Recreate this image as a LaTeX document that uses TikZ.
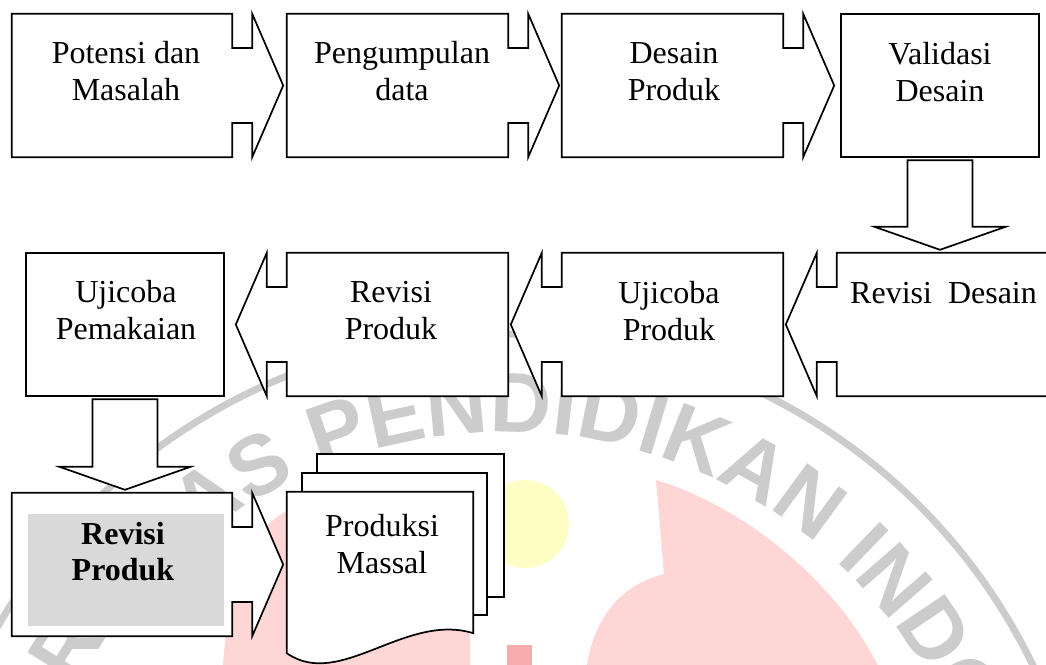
\documentclass[tikz,border=0pt]{standalone}
\usepackage{fontspec}
\setmainfont{Liberation Serif}
\newfontfamily\wmfont{Liberation Sans}
\usetikzlibrary{calc,decorations.text}
\definecolor{wmgray}{RGB}{204,204,204}
\definecolor{wmpink}{RGB}{255,214,214}
\definecolor{wmred}{RGB}{245,172,172}
\definecolor{wmyellow}{RGB}{255,253,196}
\definecolor{boxgray}{RGB}{217,217,217}
% right-pointing arrow callout around a named rectangle node
\newcommand\rcall[1]{\draw[shp] (#1.north west) -- (#1.north east) -- ($(#1.east)+(0,37.5)$) -- ($(#1.east)+(20,37.5)$) -- ($(#1.north east)+(20,0)$) -- ($(#1.east)+(51,0)$) -- ($(#1.south east)+(20,0)$) -- ($(#1.east)+(20,-37.5)$) -- ($(#1.east)+(0,-37.5)$) -- (#1.south east) -- (#1.south west) -- cycle;}
% left-pointing arrow callout
\newcommand\lcall[1]{\draw[shp] (#1.north east) -- (#1.north west) -- ($(#1.west)+(0,37.5)$) -- ($(#1.west)+(-20,37.5)$) -- ($(#1.north west)+(-20,0)$) -- ($(#1.west)+(-51,0)$) -- ($(#1.south west)+(-20,0)$) -- ($(#1.west)+(-20,-37.5)$) -- ($(#1.west)+(0,-37.5)$) -- (#1.south west) -- (#1.south east) -- cycle;}
% downward block arrow from node #1 to node #2
\newcommand\dnarrow[2]{\draw[shp] ($(#1.south)+(-32.5,-3)$) -- ($(#1.south)+(32.5,-3)$) -- ($(#1.south |- #2.north)+(32.5,26)$) -- ($(#1.south |- #2.north)+(65.5,26)$) -- ($(#1.south |- #2.north)+(0,3)$) -- ($(#1.south |- #2.north)+(-65.5,26)$) -- ($(#1.south |- #2.north)+(-32.5,26)$) -- cycle;}
\begin{document}
\begin{tikzpicture}[x=1pt,y=1pt,
  shp/.style={draw=black,fill=white,line width=1.7pt,line join=miter},
  box/.style={rectangle,draw=none,inner sep=0pt,minimum height=143pt},
  lbl/.style={anchor=base,align=center,inner sep=0pt,font=\fontsize{32}{37}\selectfont},
  wmtext/.style={decorate,decoration={text along path,text align=left,
     text={|\wmfont\bfseries\fontsize{85}{85}\selectfont\color{wmgray}|UNIVERSITAS PENDIDIKAN INDONESIA}}}]
\useasboundingbox (0,0) rectangle (1046,-664);
\fill[white] (0,0) rectangle (1046,-664);
% ---------- watermark ----------
\fill[wmpink] (656,-480) .. controls (740,-505) and (840,-580) .. (885,-680) -- (585,-680) .. controls (590,-620) and (620,-585) .. (664,-574) -- cycle;
\fill[wmpink] (300,-505) .. controls (255,-520) and (228,-570) .. (222,-680) -- (470,-680) -- (470,-505) -- cycle;
\fill[wmred] (507,-645) rectangle (532,-670);
\fill[wmyellow] (525,-524) circle[radius=44];
\draw[wmgray,line width=7pt] (505,-920) circle[radius=586];
\path[wmtext] (505,-920) ++(182.2:488) arc[start angle=182.2,end angle=-30,radius=488];
% ---------- box frames ----------
\node[box,minimum width=220pt] (b1) at (122,-85.5) {};
\node[box,minimum width=221pt] (b2) at (397.5,-85.5) {};
\node[box,minimum width=221pt] (b3) at (672.5,-85.5) {};
\node[box,minimum width=198pt] (b4) at (940,-85.5) {};
\node[box,minimum width=198pt] (c1) at (125,-324.5) {};
\node[box,minimum width=221pt] (c2) at (397.5,-324.5) {};
\node[box,minimum width=221pt] (c3) at (672.5,-324.5) {};
\node[box,minimum width=253pt] (c4) at (963.5,-324.5) {};
\node[box,minimum width=220pt] (d1) at (122,-564.5) {};
\node[rectangle,draw=none,inner sep=0pt,minimum width=186pt,minimum height=161pt] (d2) at (380,-572.5) {};
% ---------- shapes ----------
\rcall{b1}
\rcall{b2}
\rcall{b3}
\draw[shp] (b4.north west) rectangle (b4.south east);
\dnarrow{b4}{c4}
\lcall{c4}
\lcall{c3}
\lcall{c2}
\draw[shp] (c1.north west) rectangle (c1.south east);
\dnarrow{c1}{d1}
\rcall{d1}
\fill[boxgray] (28,-514) rectangle (224,-626);
% multi-document
\draw[shp] ($(d2.north west)+(30,38)$) rectangle ($(d2.north east)+(31,-105)$);
\draw[shp] ($(d2.north west)+(15,19)$) rectangle ($(d2.north east)+(14,-123)$);
\draw[shp] (d2.north west) -- (d2.north east) -- ($(d2.south east)+(0,20)$) .. controls ($(d2.south east)+(-68,41)$) and ($(d2.south west)+(53,-37)$) .. (d2.south west) -- cycle;
% ---------- labels (anchored at the baseline of the last line) ----------
\node[lbl] (t1) at (126,-100) {Potensi dan\\Masalah};
\node[lbl] (t2) at (402,-100) {Pengumpulan\\data};
\node[lbl] (t3) at (674,-100) {Desain\\Produk};
\node[lbl] (t4) at (940,-101) {Validasi\\Desain};
\node[lbl,anchor=base west] (t5) at (850,-303) {Revisi\ \ Desain};
\node[lbl] (t6) at (669,-340) {Ujicoba\\Produk};
\node[lbl] (t7) at (391,-339) {Revisi\\Produk};
\node[lbl] (t8) at (126,-339) {Ujicoba\\Pemakaian};
\node[lbl,font=\bfseries\fontsize{32}{36}\selectfont] (t9) at (123,-580) {Revisi\\Produk};
\node[lbl] (t10) at (382,-573) {Produksi\\Massal};
\end{tikzpicture}
\end{document}
